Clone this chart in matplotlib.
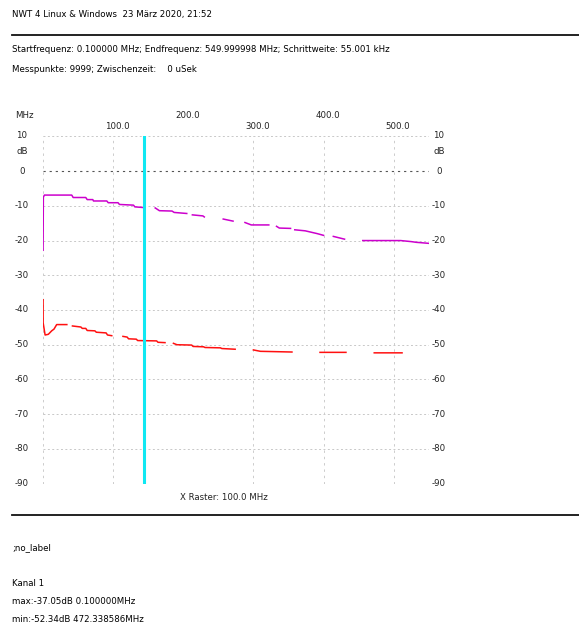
#!/usr/bin/env python3
"""NWT sweep printout: two channels in dB over 0..550 MHz with a marker line."""
import numpy as np
import matplotlib

matplotlib.use("Agg")
import matplotlib.pyplot as plt  # noqa: E402

W, H = 579, 630
NAN = np.nan

# channel traces (MHz, dB); NaN separates the drawn pieces
MAG_F = [0.1, 0.5, 2, 41, 43, 61, 63, 71, 72, 91, 93, 107, 109, 129, 131, 144, NAN,
         160, 166, 184, 187, 205, NAN,
         213, 228, 230, NAN,
         257, 271, NAN,
         288, 297, 322, NAN,
         333, 337, 353, NAN,
         359, 374, 391, 400, NAN,
         414, 420, 430, NAN,
         456, 510, 525, 532, 550]
MAG_DB = [-22.8, -7.5, -6.9, -6.9, -7.6, -7.6, -8.2, -8.2, -8.6, -8.6, -9.1, -9.1, -9.6, -9.8, -10.3, -10.5, NAN,
          -10.6, -11.4, -11.5, -11.9, -12.2, NAN,
          -12.6, -12.9, -13.2, NAN,
          -13.8, -14.4, NAN,
          -14.8, -15.5, -15.5, NAN,
          -15.9, -16.4, -16.5, NAN,
          -16.9, -17.2, -18.0, -18.5, NAN,
          -18.8, -19.1, -19.6, NAN,
          -20.0, -20.0, -20.3, -20.5, -20.8]

RED_F = [0.1, 0.2, 3, 7.6, 12.4, 15.7, 19.5, 34, NAN,
         42, 54, 56, 61, 63, 74, 76, 90, 92, 98, NAN,
         114, 120, 122, 133, 135, 162, 164, 174, NAN,
         186, 191, 212, 214, 229, 231, 253, 255, 274, NAN,
         300, 310, 355, NAN,
         395, 432, NAN,
         472.338586, 512]
RED_DB = [-37.05, -43.7, -47.2, -47.0, -46.0, -45.5, -44.2, -44.2, NAN,
          -44.6, -44.9, -45.3, -45.3, -45.9, -46.0, -46.4, -46.6, -47.2, -47.4, NAN,
          -47.6, -47.8, -48.3, -48.4, -48.8, -48.9, -49.3, -49.4, NAN,
          -49.6, -50.0, -50.1, -50.5, -50.6, -50.8, -50.9, -51.1, -51.3, NAN,
          -51.5, -51.9, -52.1, NAN,
          -52.2, -52.2, NAN,
          -52.34, -52.34]

MARKER_MHZ = 144.7
X_GRID = [0, 100, 300, 400, 500, 550]
X_LABELS = [100, 200, 300, 400, 500]
Y_TICKS = [0, -10, -20, -30, -40, -50, -60, -70, -80, -90]

HEADER = "NWT 4 Linux & Windows  23 März 2020, 21:52"
SWEEP = "Startfrequenz: 0.100000 MHz; Endfrequenz: 549.999998 MHz; Schrittweite: 55.001 kHz"
POINTS = "Messpunkte: 9999; Zwischenzeit:    0 uSek"
FOOTER = [(";no_label", 548), ("Kanal 1", 583),
          ("max:-37.05dB 0.100000MHz", 601), ("min:-52.34dB 472.338586MHz", 619)]


def fx(px):
    return px / W


def fy(py):
    return 1 - py / H


fig = plt.figure(figsize=(W / 100, H / 100), dpi=100)
fig.patch.set_facecolor("white")
FS = 6.2

fig.text(fx(12), fy(15), HEADER, fontsize=FS, va="center")
fig.text(fx(12), fy(50), SWEEP, fontsize=FS, va="center")
fig.text(fx(12), fy(69), POINTS, fontsize=FS, va="center")
for txt, py in FOOTER:
    fig.text(fx(12), fy(py), txt, fontsize=FS, va="center")
for py in (35, 515):
    fig.add_artist(plt.Line2D([fx(12), 1.0], [fy(py), fy(py)], color="#111111", lw=1.3))

x0, x1, ytop, ybot = 43, 428.7, 136.4, 483.6
ax = fig.add_axes([fx(x0), fy(ybot), fx(x1) - fx(x0), fy(ytop) - fy(ybot)])
ax.set_xlim(0, 550)
ax.set_ylim(-90, 10)
ax.axis("off")

for y in [10] + Y_TICKS[1:-1]:
    ax.axhline(y, color="#c8c8c8", lw=0.7, ls=(0, (2, 2.5)))
ax.axhline(0, color="#555555", lw=0.8, ls=(0, (2, 3.5)))
for x in X_GRID:
    ax.axvline(x, color="#cccccc", lw=0.7, ls=(0, (2.5, 4)))

ax.plot(MAG_F, MAG_DB, color="#cc00cc", lw=1.1)
ax.plot(RED_F, RED_DB, color="#ff1010", lw=1.1)
ax.axvline(MARKER_MHZ, color="#10e8f2", lw=2.2)

# dB scale on both sides
for y in Y_TICKS:
    py = ytop + (10 - y) * (ybot - ytop) / 100
    fig.text(fx(22), fy(py), str(y), fontsize=FS, ha="center", va="center", color="#222222")
    fig.text(fx(439), fy(py), str(y), fontsize=FS, ha="center", va="center", color="#222222")
for px in (22, 439):
    fig.text(fx(px), fy(136), "10", fontsize=FS, ha="center", va="center", color="#222222")
    fig.text(fx(px), fy(152), "dB", fontsize=FS, ha="center", va="center", color="#222222")

# staggered frequency labels across the top
fig.text(fx(24), fy(115), "MHz", fontsize=FS, ha="center", va="center", color="#222222")
for i, f in enumerate(X_LABELS):
    px = x0 + f * (x1 - x0) / 550 + 4
    py = 127 if i % 2 == 0 else 115
    fig.text(fx(px), fy(py), f"{f:.1f}", fontsize=FS, ha="center", va="center", color="#222222")

fig.text(fx(224), fy(497), "X Raster: 100.0 MHz", fontsize=FS, ha="center", va="center", color="#222222")

fig.savefig("out.png", dpi=100)
